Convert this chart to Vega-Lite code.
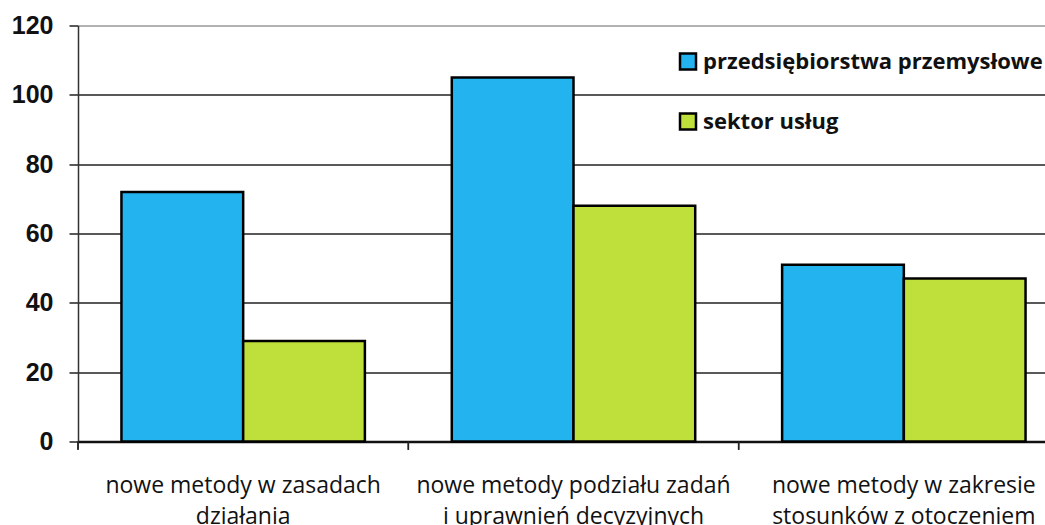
{
  "$schema": "https://vega.github.io/schema/vega-lite/v6.json",
  "width": 967,
  "height": 416,
  "autosize": {"type": "none"},
  "padding": {"left": 78, "top": 25.5, "right": 0, "bottom": 83.5},
  "background": "white",
  "config": {"view": {"stroke": null}},
  "data": {
    "values": [
      {"kategoria": "nowe metody w zasadach|działania", "seria": "przedsiębiorstwa przemysłowe", "wartosc": 72},
      {"kategoria": "nowe metody w zasadach|działania", "seria": "sektor usług", "wartosc": 29},
      {"kategoria": "nowe metody podziału zadań|i uprawnień decyzyjnych", "seria": "przedsiębiorstwa przemysłowe", "wartosc": 105},
      {"kategoria": "nowe metody podziału zadań|i uprawnień decyzyjnych", "seria": "sektor usług", "wartosc": 68},
      {"kategoria": "nowe metody w zakresie|stosunków z otoczeniem", "seria": "przedsiębiorstwa przemysłowe", "wartosc": 51},
      {"kategoria": "nowe metody w zakresie|stosunków z otoczeniem", "seria": "sektor usług", "wartosc": 47}
    ]
  },
  "layer": [
    {
      "mark": {"type": "bar", "stroke": "black", "strokeWidth": 2.5},
      "encoding": {
        "x": {
          "field": "kategoria", "type": "nominal", "sort": null,
          "scale": {"range": [0, 991], "paddingInner": 0, "paddingOuter": 0},
          "axis": {
            "title": null, "labelAngle": 0, "ticks": false, "tickSize": 0,
            "labelExpr": "split(datum.label, '|')",
            "labelFont": "Open Sans", "labelFontSize": 23, "labelColor": "#111",
            "labelLineHeight": 31, "labelPadding": 33, "labelLimit": 400,
            "domainColor": "#111", "domainWidth": 2.5
          }
        },
        "xOffset": {
          "field": "seria", "type": "nominal",
          "sort": ["przedsiębiorstwa przemysłowe", "sektor usług"],
          "scale": {"paddingInner": 0, "paddingOuter": 0.357}
        },
        "y": {
          "field": "wartosc", "type": "quantitative",
          "scale": {"domain": [0, 120], "nice": false},
          "axis": {
            "title": null, "values": [0, 20, 40, 60, 80, 100, 120],
            "labelFont": "Liberation Sans", "labelFontWeight": "bold", "labelFontSize": 25,
            "labelColor": "#111", "labelPadding": 16, "tickSize": 9, "tickColor": "#222", "tickWidth": 1.5,
            "domainColor": "#333", "domainWidth": 1.5,
            "grid": true,
            "gridColor": {"condition": {"test": "datum.value == 120", "value": "#999"}, "value": "#222"},
            "gridWidth": 1.5
          }
        },
        "color": {
          "field": "seria", "type": "nominal",
          "sort": ["przedsiębiorstwa przemysłowe", "sektor usług"],
          "scale": {"domain": ["przedsiębiorstwa przemysłowe", "sektor usług"], "range": ["#23B4F0", "#BFE03A"]},
          "legend": {
            "title": null, "orient": "none", "legendX": 599, "legendY": 25,
            "padding": 0, "symbolType": "square", "symbolSize": 256,
            "symbolStrokeColor": "black", "symbolStrokeWidth": 2.5, "symbolOpacity": 1,
            "labelFont": "Open Sans", "labelFontWeight": "bold", "labelFontSize": 22, "labelColor": "#111",
            "labelOffset": 4, "rowPadding": 34, "labelLimit": 400
          }
        }
      }
    },
    {
      "mark": {"type": "rule", "color": "#222", "strokeWidth": 1.5},
      "encoding": {
        "x": {"field": "kategoria", "type": "nominal", "sort": null, "bandPosition": 0},
        "y": {"datum": 0},
        "y2": {"datum": -2.4}
      }
    }
  ]
}
